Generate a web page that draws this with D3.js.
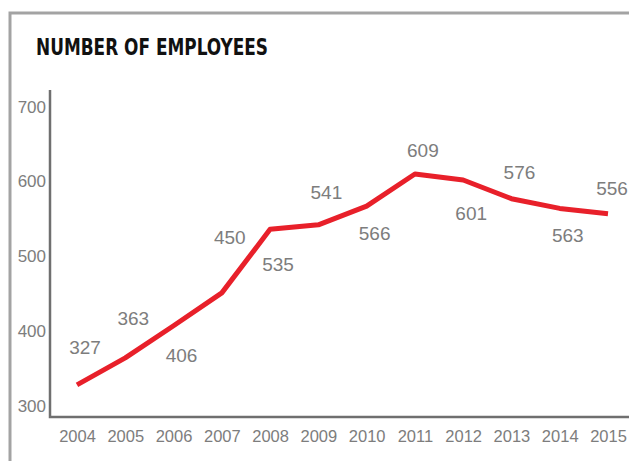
<!DOCTYPE html>
<html>
<head>
<meta charset="utf-8">
<script src="https://cdn.jsdelivr.net/npm/d3@7"></script>
<style>
  html, body { margin: 0; padding: 0; background: #fff; }
  svg { display: block; }
  .tick-label { font-family: "Liberation Sans", Arial, sans-serif; fill: #7d7d7d; }
  .value-label { font-family: "Liberation Sans", Arial, sans-serif; fill: #7d7d7d; }
</style>
</head>
<body>
<svg id="chart" width="629" height="461"></svg>
<script>
// Employee head count by year
const years = ["2004", "2005", "2006", "2007", "2008", "2009",
               "2010", "2011", "2012", "2013", "2014", "2015"];
const employees = [327, 363, 406, 450, 535, 541, 566, 609, 601, 576, 563, 556];
const yTicks = [300, 400, 500, 600, 700];
const title = "NUMBER OF EMPLOYEES";

const W = 629, H = 461;
const frame = { left: 10, top: 13 };
const plot = { left: 50, top: 90, right: W, bottom: 417 };

const svg = d3.select("#chart");

// outer frame: top and left rules
svg.append("path")
  .attr("d", `M${frame.left},${H} V${frame.top} H${W}`)
  .attr("fill", "none")
  .attr("stroke", "#a3a3a3")
  .attr("stroke-width", 3);

svg.append("text")
  .attr("x", 36)
  .attr("y", 55)
  .attr("textLength", 232)
  .attr("lengthAdjust", "spacingAndGlyphs")
  .style("font-family", "'Liberation Sans Narrow', 'DejaVu Sans Condensed', 'Liberation Sans', sans-serif")
  .style("font-weight", "bold")
  .style("font-size", "23px")
  .style("fill", "#111")
  .text(title);

const x = d3.scalePoint().domain(years).range([77, 608]);
const y = d3.scaleLinear().domain([300, 700]).range([405, 106]);

// axis rules
svg.append("path")
  .attr("d", `M${plot.left},${plot.top} V${plot.bottom} H${plot.right}`)
  .attr("fill", "none")
  .attr("stroke", "#6f6f6f")
  .attr("stroke-width", 2.5);

const yAxis = svg.append("g")
  .attr("transform", `translate(${plot.left - 4},0)`)
  .call(d3.axisLeft(y).tickValues(yTicks).tickSize(0).tickPadding(0));
yAxis.select(".domain").remove();
yAxis.selectAll("text")
  .attr("class", "tick-label")
  .attr("dy", "0.36em")
  .style("font-size", "17px");

const xAxis = svg.append("g")
  .attr("transform", `translate(0,${plot.bottom})`)
  .call(d3.axisBottom(x).tickSize(0).tickPadding(0));
xAxis.select(".domain").remove();
xAxis.selectAll("text")
  .attr("class", "tick-label")
  .attr("y", 25)
  .attr("dy", 0)
  .style("font-size", "16.5px");

const data = years.map((yr, i) => ({ year: yr, value: employees[i] }));

const line = d3.line()
  .x(d => x(d.year))
  .y(d => y(d.value));

svg.append("path")
  .datum(data)
  .attr("d", line)
  .attr("fill", "none")
  .attr("stroke", "#e8202a")
  .attr("stroke-width", 5)
  .attr("stroke-linejoin", "round")
  .attr("stroke-linecap", "butt");

// line height at any x, for keeping labels clear of the stroke
const px = data.map(d => x(d.year));
const py = data.map(d => y(d.value));
function lineYAt(xv) {
  if (xv <= px[0]) return py[0];
  if (xv >= px[px.length - 1]) return py[py.length - 1];
  const i = d3.bisectRight(px, xv) - 1;
  const t = (xv - px[i]) / (px[i + 1] - px[i]);
  return py[i] + t * (py[i + 1] - py[i]);
}

const labelSize = 19;
const capH = labelSize * 0.72;
const gap = 17;
const labelHalf = 16;

// value labels alternate above / below the line, the first two both above
svg.append("g")
  .selectAll("text")
  .data(data)
  .join("text")
  .attr("class", "value-label")
  .attr("text-anchor", "middle")
  .style("font-size", labelSize + "px")
  .each(function (d, i) {
    const cx = Math.min(x(d.year) + 8, W - labelHalf - 1);
    const xs = d3.range(cx - labelHalf, cx + labelHalf + 0.1, 2);
    const ys = xs.map(lineYAt);
    const above = i % 2 === 1 || i === 0;
    const by = above ? d3.min(ys) - gap : d3.max(ys) + gap + capH;
    d3.select(this).attr("x", cx).attr("y", by);
  })
  .text(d => d.value);
</script>
</body>
</html>
